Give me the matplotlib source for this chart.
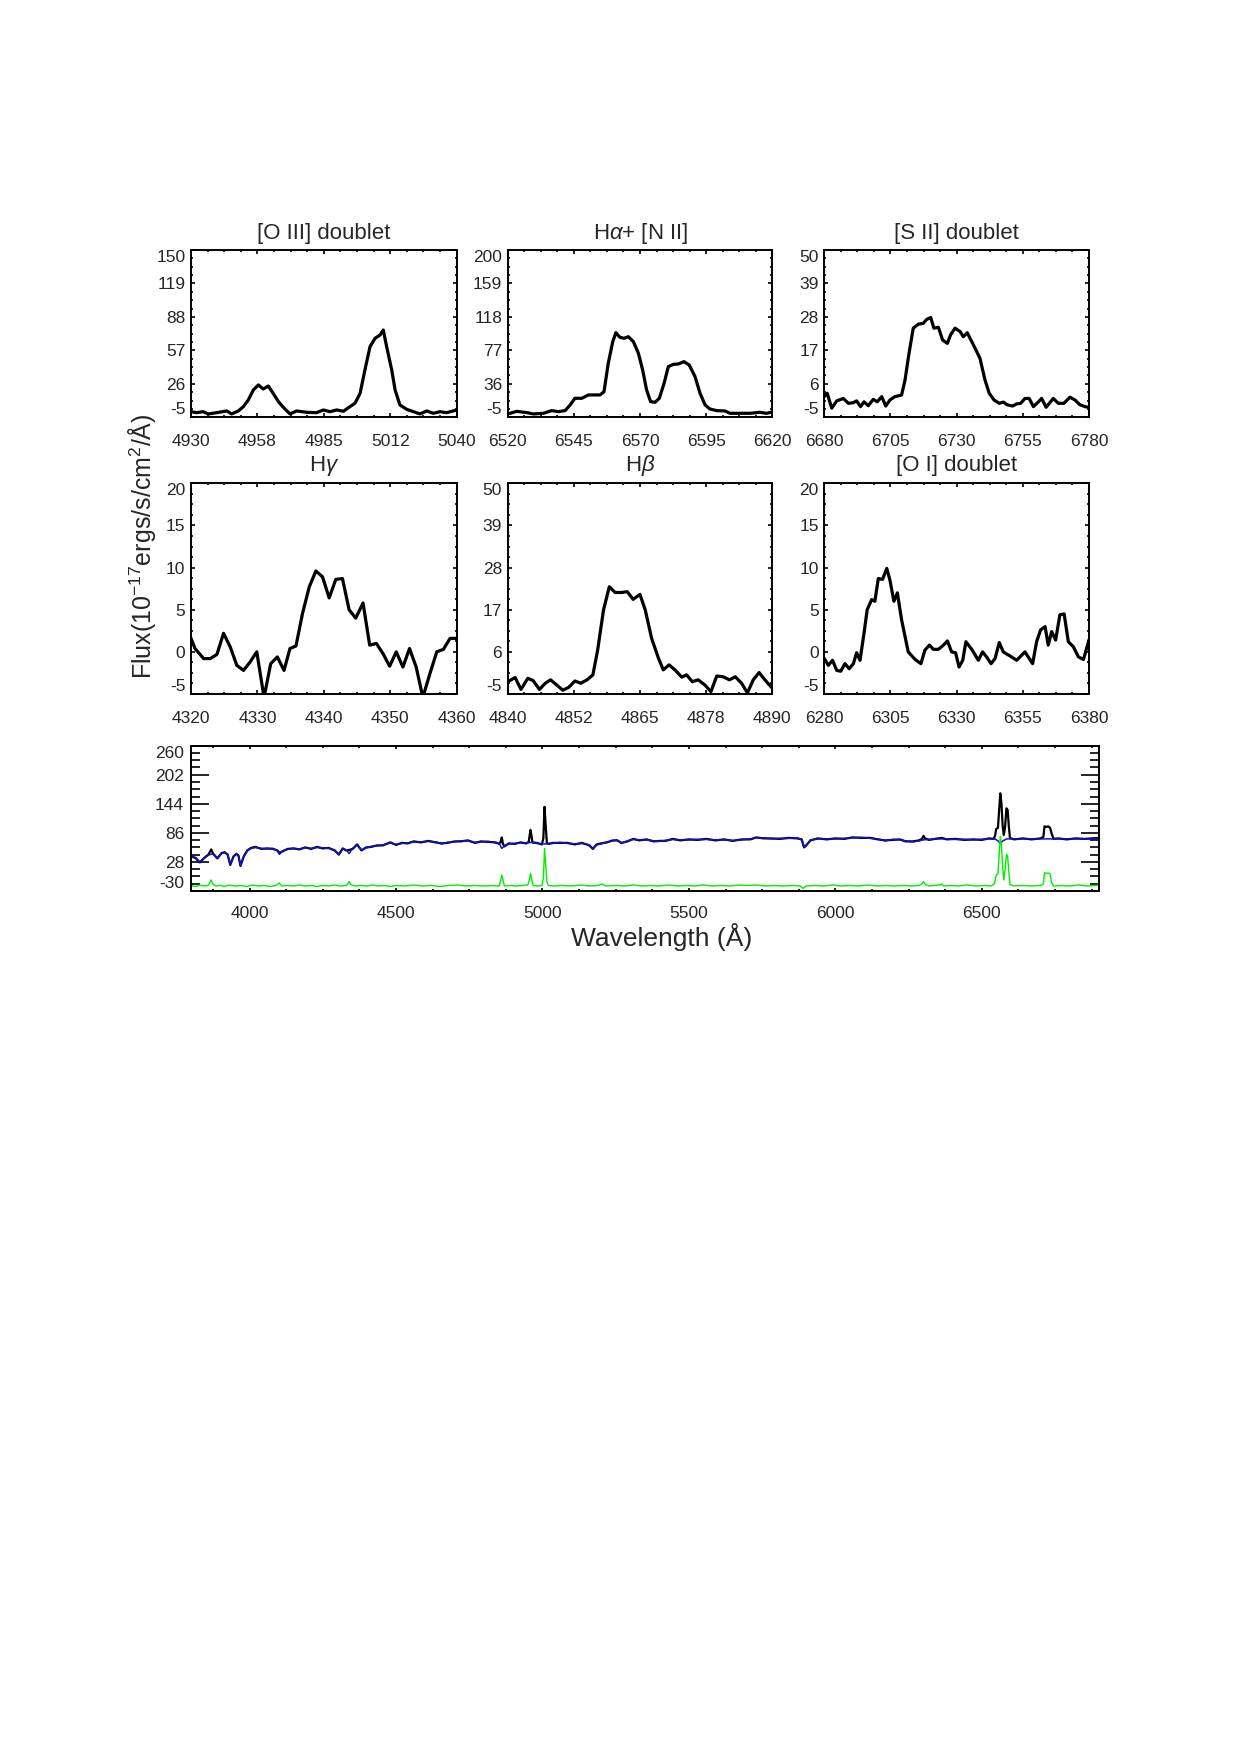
import numpy as np
import matplotlib.pyplot as plt
from matplotlib.ticker import FixedLocator, FixedFormatter, AutoMinorLocator

plt.rcParams['font.family'] = ['Liberation Sans', 'DejaVu Sans']
plt.rcParams['mathtext.fontset'] = 'custom'
plt.rcParams['mathtext.rm'] = 'Liberation Sans'
plt.rcParams['mathtext.it'] = 'Liberation Sans:italic'
plt.rcParams['mathtext.bf'] = 'Liberation Sans:bold'
TXT = '#262626'

# ---- zoom panels (emission-line spectra) ----
oiii_wave = [4930.0, 4932.3, 4935.0, 4937.2, 4940.6, 4944.8, 4946.8, 4949.6, 4951.7, 4953.7,
             4955.8, 4957.9, 4959.9, 4962.0, 4964.0, 4966.2, 4968.2, 4971.0, 4973.8, 4977.9,
             4982.0, 4984.8, 4987.5, 4990.3, 4993.1, 4995.8, 4997.9, 5000.0, 5002.0, 5004.1,
             5006.2, 5008.3, 5009.6, 5011.0, 5013.1, 5014.5, 5016.5, 5019.3, 5022.1, 5024.8,
             5027.6, 5030.3, 5033.1, 5035.8, 5038.6, 5040.0]
oiii_flux = [0.2, -0.7, 0.2, -1.9, -0.7, 0.9, -1.9, 0.9, 4.9, 11.0,
             20.3, 25.0, 21.2, 24.0, 17.2, 9.5, 4.3, -1.9, 0.9, -0.4,
             -0.7, 1.8, 0.2, 1.8, 0.6, 4.9, 8.0, 17.2, 38.8, 60.4,
             68.2, 71.3, 75.9, 60.4, 38.8, 20.3, 6.4, 2.4, 0.2, -1.9,
             0.9, -1.3, 0.2, -0.7, 0.9, 1.8]

ha_wave = [6520.0, 6523.4, 6527.2, 6529.7, 6533.5, 6536.6, 6539.1, 6541.7, 6543.6, 6545.4,
           6548.0, 6550.5, 6554.9, 6556.4, 6558.0, 6559.7, 6560.9, 6562.4, 6564.0, 6565.6,
           6567.5, 6569.4, 6571.0, 6572.5, 6574.0, 6575.7, 6577.3, 6579.1, 6580.7, 6582.6,
           6584.5, 6586.6, 6588.6, 6590.8, 6592.7, 6594.6, 6596.4, 6599.0, 6602.1, 6604.0,
           6607.8, 6611.6, 6615.3, 6617.8, 6620.0]
ha_flux = [-0.9, 2.3, 0.7, -0.9, -0.1, 3.2, 1.9, 3.2, 10.1, 18.3,
           18.3, 22.4, 22.4, 26.4, 61.1, 87.7, 98.7, 93.0, 91.8, 93.8,
           87.7, 73.4, 53.0, 28.5, 14.2, 13.4, 18.3, 36.6, 57.1, 59.9,
           60.3, 63.2, 59.1, 44.8, 24.4, 10.1, 5.2, 3.2, 2.8, -0.1,
           -0.1, -0.1, 1.1, -0.1, 1.5]

sii_wave = [6680.0, 6681.1, 6682.8, 6684.7, 6687.2, 6689.1, 6691.0, 6692.2, 6693.7, 6695.0,
            6696.6, 6698.5, 6700.0, 6701.7, 6703.2, 6704.8, 6706.7, 6709.2, 6710.5, 6712.0,
            6713.6, 6715.5, 6717.4, 6718.7, 6720.2, 6721.4, 6723.1, 6724.7, 6726.5, 6727.7,
            6729.4, 6731.3, 6732.5, 6734.0, 6735.7, 6737.3, 6738.8, 6740.7, 6742.3, 6744.1,
            6746.1, 6747.6, 6749.1, 6751.1, 6752.7, 6754.2, 6755.8, 6757.4, 6759.0, 6760.9,
            6762.1, 6763.8, 6766.5, 6768.4, 6770.5, 6772.8, 6774.7, 6776.6, 6778.5, 6780.0]
sii_flux = [1.8, 2.9, -2.0, 0.4, 1.2, -0.4, -0.2, 0.4, -1.5, 0.1,
            -1.2, 0.9, 0.1, 1.8, -1.3, 0.7, 1.8, 2.3, 7.3, 16.0,
            24.3, 25.6, 25.9, 27.2, 27.8, 24.3, 24.6, 20.4, 19.3, 22.1,
            24.3, 23.2, 21.5, 22.8, 19.9, 17.1, 14.4, 7.3, 2.9, 0.7,
            -0.4, 0.0, -0.9, -1.3, -0.6, -0.4, 1.2, 1.2, -1.5, 0.1,
            1.2, -1.7, 1.2, -0.4, -0.4, 1.6, 0.7, -0.9, -1.5, -1.7]

hg_wave = [4320.0, 4320.6, 4321.9, 4322.9, 4323.9, 4324.9, 4325.9, 4326.9, 4327.9, 4328.9,
           4329.9, 4331.0, 4332.0, 4333.0, 4334.0, 4334.9, 4335.8, 4336.8, 4337.8, 4338.8,
           4339.8, 4340.8, 4341.8, 4342.8, 4343.8, 4344.8, 4345.9, 4346.9, 4347.9, 4348.9,
           4349.9, 4350.9, 4351.9, 4352.9, 4353.9, 4354.9, 4356.0, 4357.0, 4358.0, 4359.0,
           4360.0]
hg_flux = [1.6, 0.4, -0.8, -0.8, -0.3, 2.2, 0.6, -1.6, -2.2, -1.2,
           0.0, -5.4, -1.4, -0.6, -2.2, 0.4, 0.7, 4.6, 7.7, 9.6,
           8.9, 6.4, 8.6, 8.7, 5.0, 4.0, 5.8, 0.8, 1.0, -0.2,
           -1.7, 0.0, -1.8, 0.4, -1.8, -5.4, -2.5, 0.0, 0.3, 1.6,
           1.6]

hb_wave = [4840.0, 4841.4, 4842.5, 4843.8, 4844.8, 4846.0, 4847.1, 4848.1, 4849.3, 4850.4,
           4851.5, 4852.7, 4853.8, 4855.0, 4856.1, 4857.0, 4858.1, 4859.2, 4860.3, 4861.5,
           4862.6, 4863.7, 4865.0, 4866.0, 4867.2, 4868.5, 4869.4, 4870.5, 4871.6, 4872.9,
           4873.8, 4874.9, 4876.0, 4877.3, 4878.4, 4879.5, 4880.7, 4881.9, 4883.0, 4884.2,
           4885.3, 4886.4, 4887.5, 4888.6, 4890.0]
hb_flux = [-1.8, -0.7, -3.8, -0.9, -1.5, -3.8, -2.2, -1.3, -2.7, -4.0,
           -3.3, -1.6, -2.2, -1.3, 0.0, 6.5, 16.9, 23.0, 21.5, 21.5,
           21.7, 19.7, 21.0, 16.9, 9.5, 4.3, 1.3, 2.6, 1.3, -0.6,
           0.0, -1.8, -1.3, -2.7, -4.4, -0.3, -0.5, -1.3, -0.5, -2.2,
           -4.7, -1.3, 0.6, -1.3, -3.5]

oi_wave = [6280.0, 6281.5, 6283.1, 6284.7, 6286.2, 6287.8, 6289.4, 6291.0, 6292.2, 6293.5,
           6295.0, 6296.2, 6297.9, 6299.1, 6300.4, 6302.0, 6303.6, 6304.8, 6306.3, 6307.6,
           6309.2, 6311.7, 6314.3, 6316.5, 6318.0, 6319.7, 6321.2, 6323.1, 6325.0, 6326.5,
           6328.1, 6329.6, 6330.9, 6332.3, 6333.5, 6335.7, 6338.2, 6339.8, 6341.3, 6343.0,
           6344.5, 6346.1, 6347.6, 6350.2, 6352.7, 6355.8, 6358.7, 6360.2, 6361.7, 6363.4,
           6364.6, 6365.9, 6367.4, 6369.0, 6370.6, 6372.2, 6374.1, 6376.0, 6377.9, 6380.0]
oi_flux = [-0.8, -1.6, -1.0, -2.2, -2.3, -1.4, -2.0, -1.4, -0.1, -1.0,
           2.2, 5.0, 6.2, 6.0, 8.7, 8.6, 9.9, 8.5, 6.0, 7.0,
           3.8, 0.0, -0.9, -1.4, 0.2, 0.8, 0.3, 0.3, 0.8, 1.3,
           0.0, -0.1, -1.8, -1.0, 1.2, 0.3, -1.0, 0.0, -0.6, -1.4,
           -0.8, 1.1, 0.0, -0.5, -1.0, 0.0, -1.4, 1.2, 2.6, 3.0,
           0.8, 2.4, 1.4, 4.4, 4.5, 1.2, 0.6, -0.6, -0.9, 1.4]

panel_titles = ['[O III] doublet', r'H$\alpha$+ [N II]', '[S II] doublet',
                r'H$\gamma$', r'H$\beta$', '[O I] doublet']
panel_xlims = [(4930, 5040), (6520, 6620), (6680, 6780),
               (4320, 4360), (4840, 4890), (6280, 6380)]
panel_ylims = [(-5, 150), (-5, 200), (-5, 50), (-5, 20), (-5, 50), (-5, 20)]
panel_xlabels = [['4930', '4958', '4985', '5012', '5040'],
                 ['6520', '6545', '6570', '6595', '6620'],
                 ['6680', '6705', '6730', '6755', '6780'],
                 ['4320', '4330', '4340', '4350', '4360'],
                 ['4840', '4852', '4865', '4878', '4890'],
                 ['6280', '6305', '6330', '6355', '6380']]
panel_ylabels = [['-5', '26', '57', '88', '119', '150'],
                 ['-5', '36', '77', '118', '159', '200'],
                 ['-5', '6', '17', '28', '39', '50'],
                 ['-5', '0', '5', '10', '15', '20'],
                 ['-5', '6', '17', '28', '39', '50'],
                 ['-5', '0', '5', '10', '15', '20']]
panel_waves = [oiii_wave, ha_wave, sii_wave, hg_wave, hb_wave, oi_wave]
panel_fluxes = [oiii_flux, ha_flux, sii_flux, hg_flux, hb_flux, oi_flux]

# ---- full spectrum ----
# stellar continuum model (blue)
model_wave = [3800, 3815, 3830, 3845, 3860, 3875, 3890, 3905, 3915, 3925, 3934, 3945, 3955, 3962, 3969,
              3980, 3992, 4005, 4020, 4040, 4060, 4080, 4095, 4102, 4112, 4130, 4150, 4170, 4190, 4210,
              4230, 4250, 4270, 4290, 4305, 4318, 4330, 4340, 4352, 4367, 4382, 4398, 4415, 4435, 4455,
              4480, 4500, 4520, 4540, 4560, 4585, 4610, 4635, 4655, 4675, 4700, 4720, 4745, 4770, 4790,
              4815, 4840, 4852, 4861, 4870, 4885, 4905, 4925, 4945, 4960, 4980, 5000, 5015, 5035, 5060,
              5085, 5110, 5135, 5160, 5172, 5185, 5200, 5220, 5240, 5255, 5270, 5290, 5310, 5330, 5355,
              5380, 5400, 5420, 5445, 5470, 5500, 5530, 5560, 5590, 5620, 5650, 5680, 5710, 5730, 5755,
              5780, 5810, 5840, 5870, 5885, 5893, 5900, 5915, 5940, 5970, 6000, 6030, 6060, 6090, 6120,
              6145, 6170, 6195, 6220, 6240, 6265, 6285, 6300, 6320, 6350, 6380, 6410, 6440, 6470, 6500,
              6525, 6545, 6555, 6563, 6572, 6585, 6610, 6640, 6670, 6700, 6730, 6760, 6790, 6820, 6850,
              6875, 6900]
model_flux = [38, 37, 28, 35, 42, 44, 36, 45, 48, 42, 23, 38, 45, 40, 21,
              38, 50, 55, 57, 55, 54, 55, 50, 43, 50, 53, 55, 54, 56, 55,
              57, 56, 55, 52, 42, 54, 52, 45, 55, 62, 52, 56, 59, 60, 62,
              66, 63, 65, 66, 68, 68, 69, 68, 64, 67, 68, 70, 70, 67, 68,
              69, 66, 65, 55, 60, 64, 65, 66, 66, 67, 65, 64, 64, 65, 67,
              65, 64, 65, 62, 55, 62, 64, 68, 70, 72, 65, 70, 73, 72, 72,
              70, 69, 71, 73, 72, 72, 73, 73, 72, 72, 71, 72, 74, 76, 76,
              74, 75, 75, 76, 72, 58, 60, 72, 74, 74, 74, 75, 76, 77, 75,
              74, 70, 73, 72, 70, 68, 70, 72, 73, 74, 74, 73, 73, 72, 73,
              74, 74, 70, 66, 70, 74, 74, 74, 74, 74, 74, 74, 74, 74, 74,
              74, 76]

# observed spectrum (black)
obs_wave = [3800, 3815, 3830, 3845, 3860, 3869, 3875, 3890, 3905, 3915, 3925, 3934, 3945, 3955, 3962,
            3969, 3980, 3992, 4005, 4020, 4040, 4060, 4080, 4095, 4102, 4112, 4130, 4150, 4170, 4190,
            4210, 4230, 4250, 4270, 4290, 4305, 4318, 4330, 4340, 4352, 4367, 4382, 4398, 4415, 4435,
            4455, 4480, 4500, 4520, 4540, 4560, 4585, 4610, 4635, 4655, 4675, 4700, 4720, 4745, 4770,
            4790, 4815, 4840, 4852, 4857, 4861, 4865, 4870, 4885, 4905, 4925, 4945, 4953, 4956, 4959,
            4962, 4966, 4980, 4998, 5003, 5007, 5011, 5015, 5020, 5035, 5060, 5085, 5110, 5135, 5160,
            5172, 5185, 5200, 5220, 5240, 5255, 5270, 5290, 5310, 5330, 5355, 5380, 5400, 5420, 5445,
            5470, 5500, 5530, 5560, 5590, 5620, 5650, 5680, 5710, 5730, 5755, 5780, 5810, 5840, 5870,
            5885, 5893, 5900, 5915, 5940, 5970, 6000, 6030, 6060, 6090, 6120, 6145, 6170, 6195, 6220,
            6240, 6265, 6285, 6296, 6301, 6306, 6320, 6350, 6364, 6380, 6410, 6440, 6470, 6500, 6525,
            6540, 6545, 6549, 6555, 6559, 6563, 6567, 6571, 6575, 6579, 6584, 6588, 6592, 6596, 6610,
            6640, 6670, 6700, 6710, 6714, 6720, 6727, 6733, 6738, 6745, 6760, 6790, 6820, 6850, 6875,
            6900]
obs_flux = [39, 36, 27, 36, 43, 53, 45, 35, 46, 47, 43, 22, 39, 44, 41,
            20, 39, 51, 56, 58, 54, 55, 54, 51, 46, 49, 54, 55, 53, 57,
            54, 58, 55, 56, 51, 43, 55, 51, 52, 54, 63, 51, 57, 58, 61,
            61, 67, 62, 66, 65, 69, 67, 70, 67, 65, 66, 69, 69, 71, 66,
            69, 68, 67, 64, 68, 77, 64, 59, 65, 64, 67, 65, 68, 80, 92,
            82, 67, 66, 63, 75, 138, 100, 66, 64, 66, 66, 66, 63, 66, 61,
            54, 63, 65, 67, 71, 71, 66, 69, 74, 71, 73, 69, 70, 70, 74,
            71, 73, 72, 74, 71, 73, 70, 73, 73, 77, 75, 75, 74, 76, 75,
            73, 57, 61, 71, 75, 73, 75, 74, 77, 76, 76, 73, 71, 72, 73,
            69, 69, 71, 74, 80, 75, 72, 75, 76, 73, 74, 72, 73, 72, 75,
            74, 80, 94, 96, 130, 165, 145, 100, 82, 96, 135, 132, 100, 76, 73,
            75, 73, 75, 78, 99, 98, 99, 96, 85, 74, 75, 73, 75, 74, 75,
            76]

# emission-line residual, offset (green)
line_wave = [3800, 3815, 3830, 3845, 3858, 3864, 3869, 3874, 3885, 3900, 3915, 3930, 3950, 3970, 3990,
             4010, 4030, 4050, 4070, 4090, 4101, 4110, 4130, 4150, 4170, 4190, 4210, 4230, 4250, 4270,
             4290, 4310, 4330, 4336, 4340, 4345, 4360, 4380, 4400, 4420, 4440, 4460, 4480, 4500, 4530,
             4560, 4590, 4620, 4650, 4680, 4710, 4740, 4770, 4800, 4830, 4852, 4857, 4861, 4865, 4870,
             4890, 4910, 4930, 4950, 4955, 4959, 4963, 4968, 4985, 4998, 5003, 5007, 5011, 5015, 5020,
             5040, 5070, 5100, 5130, 5160, 5190, 5202, 5215, 5250, 5280, 5310, 5340, 5370, 5400, 5430,
             5460, 5490, 5520, 5550, 5580, 5610, 5640, 5670, 5700, 5730, 5760, 5790, 5820, 5850, 5880,
             5890, 5900, 5930, 5960, 5990, 6020, 6050, 6080, 6110, 6140, 6170, 6200, 6230, 6260, 6285,
             6295, 6301, 6307, 6320, 6340, 6358, 6364, 6370, 6390, 6420, 6450, 6480, 6510, 6530, 6543,
             6549, 6555, 6559, 6563, 6567, 6571, 6575, 6579, 6584, 6588, 6592, 6596, 6610, 6640, 6670,
             6700, 6710, 6714, 6720, 6727, 6733, 6738, 6745, 6770, 6800, 6830, 6860, 6890, 6900]
line_flux = [-19, -21, -18, -20, -19, -14, -8, -16, -20, -19, -21, -18, -20, -19, -21,
             -18, -20, -19, -21, -19, -14, -20, -19, -20, -18, -20, -19, -21, -19, -20,
             -18, -20, -19, -15, -11, -17, -20, -19, -20, -18, -20, -19, -21, -19, -20,
             -18, -20, -19, -21, -19, -18, -20, -19, -20, -19, -20, -10, 2, -8, -20,
             -19, -20, -19, -18, -8, 5, -6, -19, -20, -19, -5, 55, 20, -12, -19,
             -20, -19, -20, -18, -20, -19, -16, -20, -19, -20, -18, -20, -19, -20, -18,
             -20, -19, -20, -18, -20, -19, -20, -18, -19, -18, -20, -19, -20, -19, -20,
             -25, -20, -19, -20, -18, -20, -19, -20, -18, -20, -19, -20, -19, -20, -19,
             -16, -11, -17, -20, -19, -18, -16, -20, -19, -20, -18, -20, -19, -20, -16,
             2, 4, 40, 78, 60, 20, -8, 10, 43, 40, 10, -17, -20, -19, -20,
             -19, -16, 7, 5, 6, 4, -14, -20, -19, -20, -18, -20, -19, -18]

full_xlim = (3800, 6900)
full_ylim = (-30, 260)
full_xticks = [4000, 4500, 5000, 5500, 6000, 6500]
full_ylabels = ['-30', '28', '86', '144', '202', '260']

# ---- figure ----
fig = plt.figure(figsize=(12.4, 17.55), dpi=100)
W, H = 1240.0, 1755.0


def px_axes(left, top, right, bottom):
    return fig.add_axes([left / W, 1 - bottom / H, (right - left) / W, (bottom - top) / H])


def idl_ticks(ax, xlen, ylen, xpad=12, ypad=4):
    for s in ax.spines.values():
        s.set_linewidth(1.4)
    ax.tick_params(axis='both', which='both', direction='in', top=True, right=True,
                   colors='black', labelcolor=TXT, labelsize=12.5, width=1.2)
    ax.tick_params(axis='x', which='major', length=xlen, pad=xpad)
    ax.tick_params(axis='x', which='minor', length=xlen * 0.6)
    ax.tick_params(axis='y', which='major', length=ylen, pad=ypad)
    ax.tick_params(axis='y', which='minor', length=ylen * 0.5)
    ax.xaxis.set_minor_locator(AutoMinorLocator(4))
    ax.yaxis.set_minor_locator(AutoMinorLocator(4))
    # IDL keeps the end labels inside the axis range
    yt = ax.yaxis.get_major_ticks()
    yt[0].label1.set_va('bottom')
    yt[-1].label1.set_va('top')


col_left = [191, 507.7, 824.3]
col_right = [456.7, 772.3, 1089]
row_top = [250, 483.3]
row_bottom = [417.3, 694]

for i in range(6):
    r, c = divmod(i, 3)
    ax = px_axes(col_left[c], row_top[r], col_right[c], row_bottom[r])
    ax.plot(panel_waves[i], panel_fluxes[i], color='black', lw=2.3)
    x0, x1 = panel_xlims[i]
    y0, y1 = panel_ylims[i]
    ax.set_xlim(x0, x1)
    ax.set_ylim(y0, y1)
    ax.xaxis.set_major_locator(FixedLocator(np.linspace(x0, x1, 5)))
    ax.xaxis.set_major_formatter(FixedFormatter(panel_xlabels[i]))
    ax.yaxis.set_major_locator(FixedLocator(np.linspace(y0, y1, 6)))
    ax.yaxis.set_major_formatter(FixedFormatter(panel_ylabels[i]))
    idl_ticks(ax, xlen=2.6, ylen=3.2)
    ax.annotate(panel_titles[i], xy=(0.5, 1), xycoords='axes fraction',
                xytext=(0, 12 if r == 0 else 12.5), textcoords='offset points',
                ha='center', va='center', fontsize=16, color=TXT)

ax = px_axes(191, 745.7, 1099, 891)
ax.plot(obs_wave, obs_flux, color='black', lw=1.6)
ax.plot(model_wave, model_flux, color='#1010d0', lw=1.1)
ax.plot(line_wave, line_flux, color='#00ee00', lw=1.0)
ax.set_xlim(*full_xlim)
ax.set_ylim(*full_ylim)
ax.xaxis.set_major_locator(FixedLocator(full_xticks))
ax.yaxis.set_major_locator(FixedLocator(np.linspace(full_ylim[0], full_ylim[1], 6)))
ax.yaxis.set_major_formatter(FixedFormatter(full_ylabels))
idl_ticks(ax, xlen=2.4, ylen=13, xpad=10.5, ypad=5)

fig.text(142 / W, 1 - 546 / H, r'Flux(10$^{-17}$ergs/s/cm$^{2}$/Å)', rotation=90,
         ha='center', va='center', fontsize=18, color=TXT)
fig.text(662 / W, 1 - 937 / H, 'Wavelength (Å)', ha='center', va='center',
         fontsize=19, color=TXT)

fig.savefig('out.png', dpi=100)
